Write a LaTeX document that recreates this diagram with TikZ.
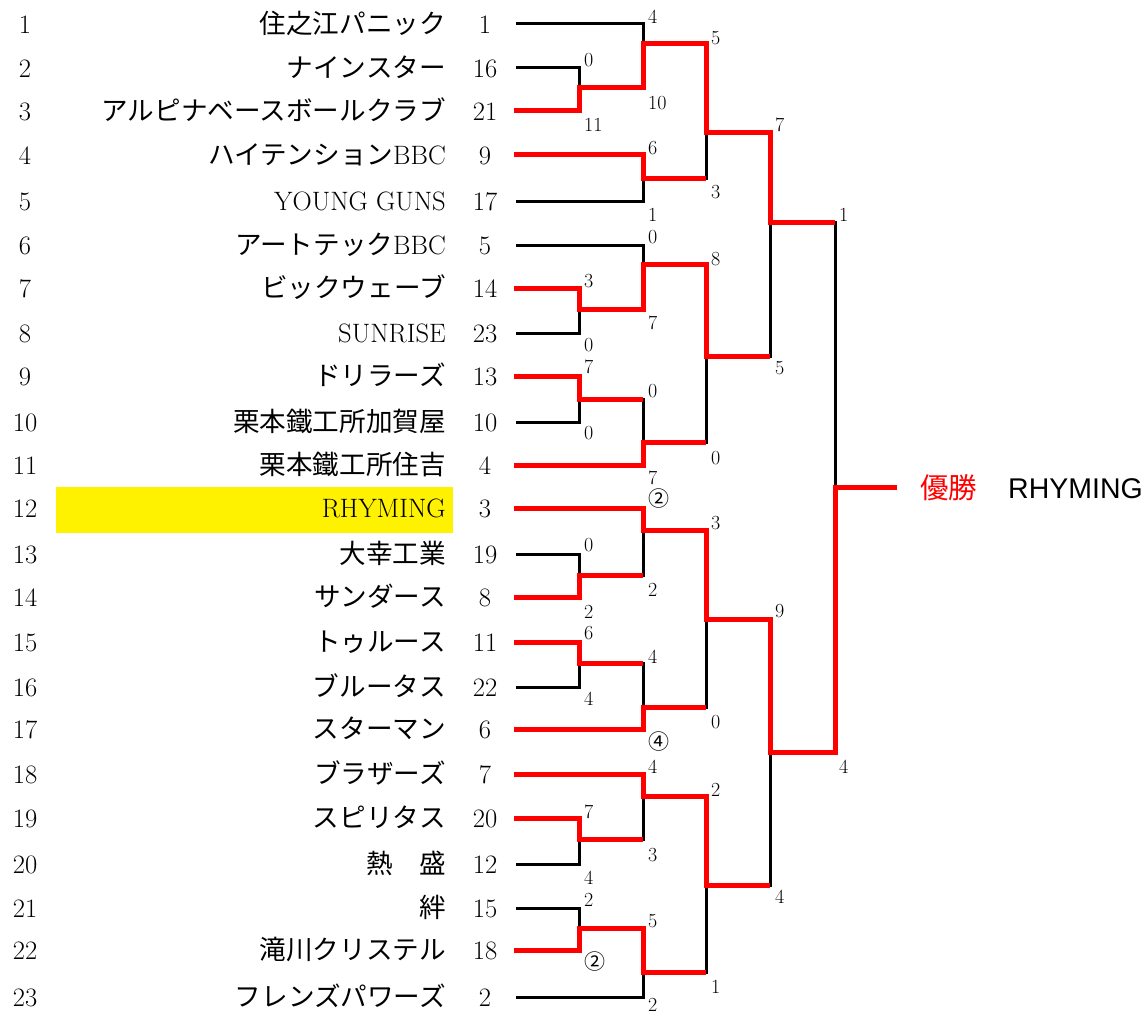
\documentclass[tikz,border=0pt]{standalone}
\usepackage{fontspec}
\newfontfamily\cjk{Noto Sans CJK JP}
\newfontfamily\arialf{Liberation Sans}
\begin{document}
\begin{tikzpicture}[x=1pt,y=-1pt,
  bl/.style={line width=3pt, black},
  rd/.style={line width=5pt, red},
  idxlbl/.style={anchor=base, inner sep=0pt, font=\fontsize{26.6}{30}\selectfont},
  namelbl/.style={anchor=base east, inner sep=0pt, font=\fontsize{26.6}{30}\selectfont},
  seedlbl/.style={anchor=base, inner sep=0pt, font=\fontsize{26.6}{30}\selectfont},
  scorelbl/.style={anchor=base west, inner sep=0pt, font=\fontsize{20}{23}\selectfont},
  winlbl/.style={anchor=base west, inner sep=0pt, font=\fontsize{28.5}{32}\selectfont}]
\useasboundingbox (0,0) rectangle (1146,1014);
% highlight of the champion
\fill[yellow] (56,487) rectangle (453,533);
% team list
\foreach \yy/\nm/\sd [count=\i] in {
  24/{\cjk 住之江パニック}/1,
  68/{\cjk ナインスター}/16,
  111/{\cjk アルピナベースボールクラブ}/21,
  155/{{\cjk ハイテンション}BBC}/9,
  201/{YOUNG GUNS}/17,
  245/{{\cjk アートテック}BBC}/5,
  288/{\cjk ビックウェーブ}/14,
  333/{SUNRISE}/23,
  376/{\cjk ドリラーズ}/13,
  422/{\cjk 栗本鐵工所加賀屋}/10,
  465/{\cjk 栗本鐵工所住吉}/4,
  508/{RHYMING}/3,
  554/{\cjk 大幸工業}/19,
  597/{\cjk サンダース}/8,
  642/{\cjk トゥルース}/11,
  687/{\cjk ブルータス}/22,
  729/{\cjk スターマン}/6,
  774/{\cjk ブラザーズ}/7,
  818/{\cjk スピリタス}/20,
  864/{\cjk 熱　盛}/12,
  908/{\cjk 絆}/15,
  950/{\cjk 滝川クリステル}/18,
  997/{\cjk フレンズパワーズ}/2}
{
  \node[idxlbl] (idx\i) at (25,\yy+9.5) {\i};
  \node[namelbl] (name\i) at (446,\yy+9.5) {\nm};
  \node[seedlbl] (seed\i) at (485,\yy+9.5) {\sd};
}
% black bracket: round 1
\draw[bl] (516,68) -| (579,111) -- (516,111);
\draw[bl] (516,288) -| (579,333) -- (516,333);
\draw[bl] (516,376) -| (579,422) -- (516,422);
\draw[bl] (516,554) -| (579,597) -- (516,597);
\draw[bl] (516,642) -| (579,687) -- (516,687);
\draw[bl] (516,818) -| (579,864) -- (516,864);
\draw[bl] (516,908) -| (579,950) -- (516,950);
% round 2
\draw[bl] (516,24) -| (643,88) -- (579,88);
\draw[bl] (516,155) -| (643,201) -- (516,201);
\draw[bl] (516,245) -| (643,309) -- (579,309);
\draw[bl] (579,399) -| (643,465) -- (516,465);
\draw[bl] (516,508) -| (643,575) -- (579,575);
\draw[bl] (579,663) -| (643,729) -- (516,729);
\draw[bl] (516,774) -| (643,839) -- (579,839);
\draw[bl] (579,928) -| (643,997) -- (516,997);
% round 3
\draw[bl] (643,44) -| (706,178) -- (643,178);
\draw[bl] (643,264) -| (706,442) -- (643,442);
\draw[bl] (643,530) -| (706,707) -- (643,707);
\draw[bl] (643,796) -| (706,972) -- (643,972);
% round 4
\draw[bl] (706,133) -| (770,356) -- (706,356);
\draw[bl] (706,619) -| (770,885) -- (706,885);
% final
\draw[bl] (770,222) -| (835,752) -- (770,752);
% red winner paths
\draw[rd] (514,111) -| (579,88) -| (643,44) -| (706,133) -| (770,222) -- (835,222);
\draw[rd] (514,155) -| (643,178) -- (706,178);
\draw[rd] (514,288) -| (579,309) -| (643,264) -| (706,356) -- (770,356);
\draw[rd] (514,376) -| (579,399) -- (643,399);
\draw[rd] (514,465) -| (643,442) -- (706,442);
\draw[rd] (514,508) -| (643,530) -| (706,619) -| (770,752) -| (835,487) -- (897,487);
\draw[rd] (514,597) -| (579,575) -- (643,575);
\draw[rd] (514,642) -| (579,663) -- (643,663);
\draw[rd] (514,729) -| (643,707) -- (706,707);
\draw[rd] (514,774) -| (643,796) -| (706,885) -- (770,885);
\draw[rd] (514,818) -| (579,839) -- (643,839);
\draw[rd] (514,950) -| (579,928) -| (643,972) -- (706,972);
% scores
\foreach \xx/\yy/\tt [count=\i] in {
  584/60/0, 584/125/11, 584/281/3, 584/345/0, 584/367/7, 584/433/0,
  584/545/0, 584/612/2, 584/633/6, 584/699/4, 584/812/7, 584/878/4,
  584/900/2, 584/963/{{\cjk\fontsize{21}{24}\selectfont ②}},
  648/17/4, 648/103/10, 648/148/6, 648/215/1, 648/237/0, 648/323/7,
  648/391/0, 648/478/7, 648/500/{{\cjk\fontsize{21}{24}\selectfont ②}}, 648/590/2,
  648/657/4, 648/743/{{\cjk\fontsize{21}{24}\selectfont ④}}, 648/767/4, 648/855/3,
  648/921/5, 648/1005/2,
  711/38/5, 711/192/3, 711/259/8, 711/458/0, 711/523/3, 711/722/0,
  711/790/2, 711/987/1,
  775/125/7, 775/368/5, 775/611/9, 775/897/4,
  839/215/1, 839/767/4}
{
  \node[scorelbl] (sc\i) at (\xx,\yy+6.3) {\tt};
}
% champion
\node[winlbl, text=red] (champ) at (920,498) {\cjk 優勝};
\node[winlbl] (champname) at (1008,498) {\arialf RHYMING};
\end{tikzpicture}
\end{document}
